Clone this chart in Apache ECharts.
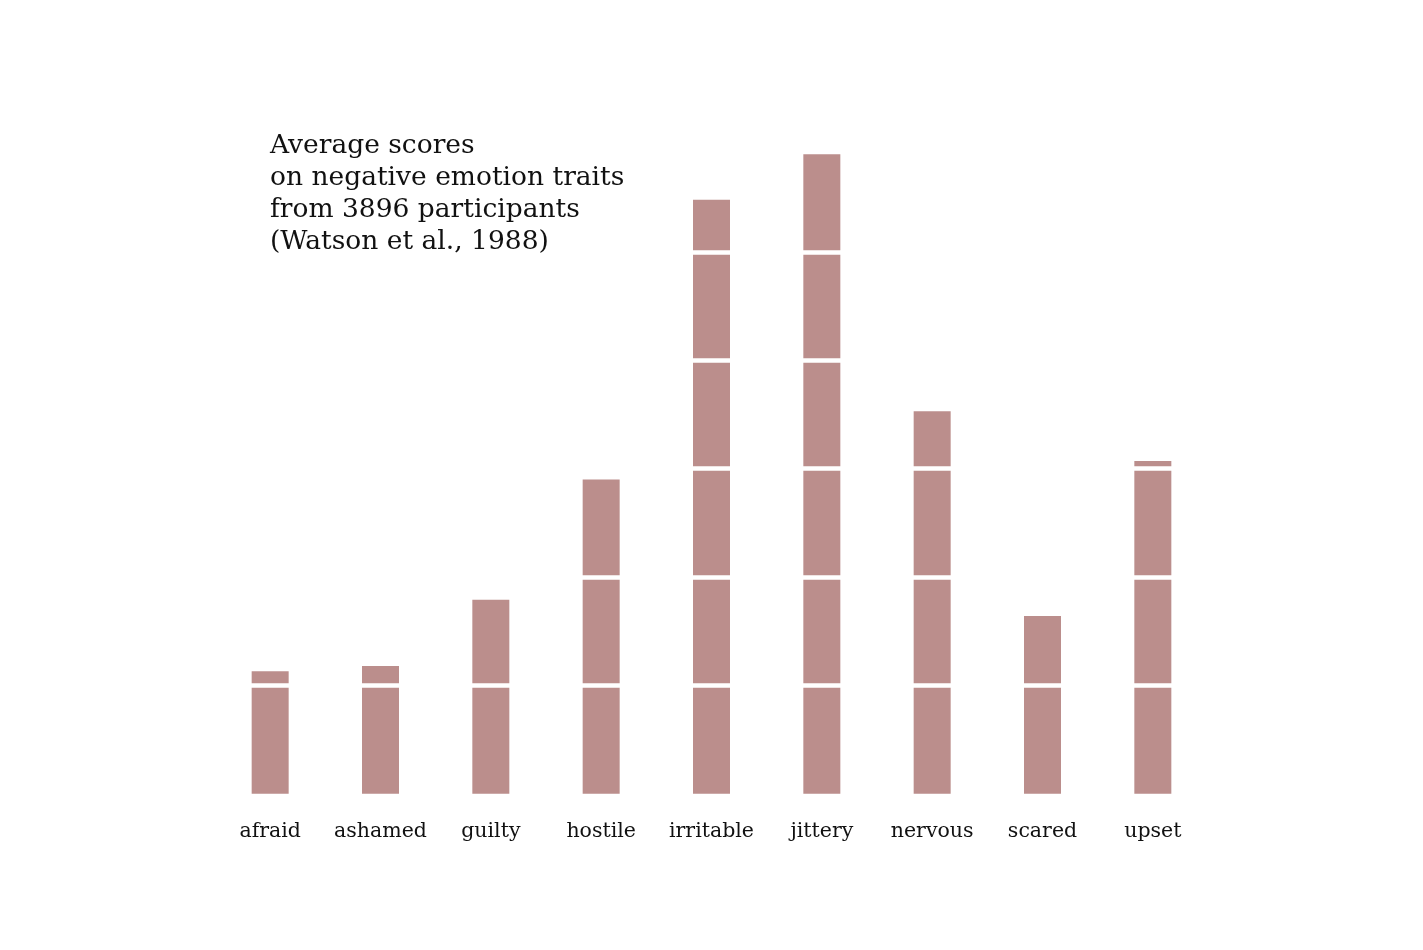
<!DOCTYPE html>
<html><head><meta charset="utf-8">
<script src="https://cdn.jsdelivr.net/npm/echarts@6/dist/echarts.min.js"></script>
<style>html,body{margin:0;padding:0;background:#fff}#c{width:1423px;height:950px}</style>
</head><body><div id="c"></div>
<script>
const categories = ["afraid","ashamed","guilty","hostile","irritable","jittery","nervous","scared","upset"];
const scores = [1.13, 1.18, 1.79, 2.90, 5.48, 5.90, 3.53, 1.64, 3.07];
const titleLines = ["Average scores","on negative emotion traits","from 3896 participants","(Watson et al., 1988)"];
const FONT = "DejaVu Serif";
const chart = echarts.init(document.getElementById('c'));
chart.setOption({
  backgroundColor:'#fff',
  animation:false,
  title:{
    text:titleLines.join('\n'), left:265, top:125, z:30, padding:5,
    textStyle:{fontFamily:FONT, fontSize:26.5, fontWeight:'normal', color:'#111', lineHeight:32}
  },
  grid:{left:215, right:215, top:143.4, bottom:156.2},
  xAxis:{type:'category', data:categories,
    axisLine:{show:false}, axisTick:{show:false},
    axisLabel:{interval:0, fontFamily:FONT, fontSize:20.5, color:'#111', margin:27}},
  yAxis:{type:'value', min:0, max:6, interval:1, z:10,
    axisLine:{show:false}, axisTick:{show:false}, axisLabel:{show:false},
    splitLine:{show:true, showMinLine:false, showMaxLine:false, lineStyle:{color:'#fff', width:4.5}}},
  series:[{type:'bar', data:scores, barWidth:37, itemStyle:{color:'#bb8e8c'}}]
});
</script></body></html>
